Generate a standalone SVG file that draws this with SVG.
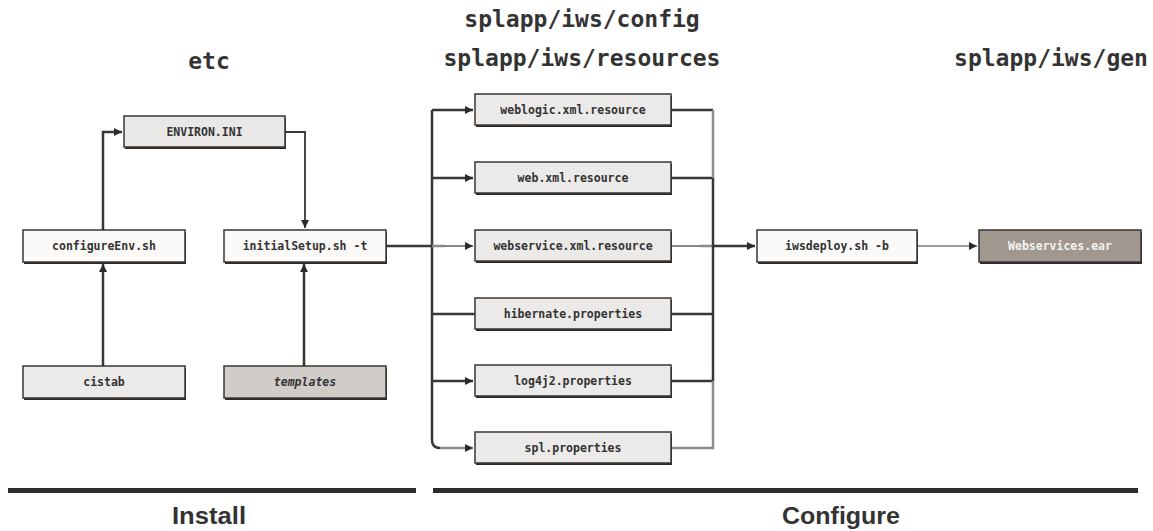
<svg xmlns="http://www.w3.org/2000/svg" width="1153" height="531" viewBox="0 0 1153 531">
<defs>
<style>
.hdr{font-family:"DejaVu Sans Mono","Liberation Mono",monospace;font-weight:bold;font-size:23px;fill:#333;text-anchor:middle}
.box{stroke:#3a3633;stroke-width:1.5}
.sh{fill:#2e2a28}
.t{font-family:"DejaVu Sans Mono","Liberation Mono",monospace;font-weight:bold;font-size:11.5px;fill:#333;text-anchor:middle}
.c{fill:none;stroke:#3a3633;stroke-width:2.5}
.cg{fill:none;stroke:#8e8a86;stroke-width:2.5}
.thin{fill:none;stroke:#3a3633;stroke-width:1.2}
.foot{font-family:"Liberation Sans",Arial,sans-serif;font-weight:bold;font-size:23px;fill:#333;text-anchor:middle}
</style>
<marker id="ah" viewBox="0 0 10 10" refX="10" refY="5" markerWidth="8" markerHeight="8" markerUnits="userSpaceOnUse" orient="auto">
<path d="M0,0 L10,5 L0,10 z" fill="#2e2a28"/>
</marker>
</defs>
<rect width="1153" height="531" fill="#fff"/>

<g id="headers">
<text class="hdr" x="209" y="69">etc</text>
<text class="hdr" x="582" y="27">splapp/iws/config</text>
<text class="hdr" x="582" y="66">splapp/iws/resources</text>
<text class="hdr" x="1051" y="66">splapp/iws/gen</text>
</g>

<g id="connectors">
<path class="c" d="M103,230 V132 H122" marker-end="url(#ah)"/>
<path class="c" d="M286,132 H305 V228" marker-end="url(#ah)" style="stroke-width:1.8"/>
<path class="c" d="M103,366 V264" marker-end="url(#ah)"/>
<path class="c" d="M304,366 V264" marker-end="url(#ah)"/>
<path class="c" d="M386,246 H432"/>
<path class="c" d="M432,110 V440 Q432,448 440,448"/>
<path class="c" d="M432,110 H473" marker-end="url(#ah)"/>
<path class="c" d="M432,178 H473" marker-end="url(#ah)"/>
<path class="cg" d="M432,246 H445"/>
<path class="thin" d="M445,246 H473" marker-end="url(#ah)"/>
<path class="c" d="M432,314 H475"/>
<path class="c" d="M432,381 H473" marker-end="url(#ah)"/>
<path class="cg" d="M440,448 H473" marker-end="url(#ah)"/>
<path class="c" d="M671,110 H713"/>
<path class="c" d="M671,178 H713"/>
<path class="thin" d="M671,246 H700"/>
<path class="cg" d="M700,246 H713"/>
<path class="c" d="M671,314 H713"/>
<path class="c" d="M671,381 H713"/>
<path class="cg" d="M671,448 H713 V381"/>
<path class="cg" d="M713,110 V178"/>
<path class="c" d="M713,178 V381"/>
<path class="c" d="M713,246 H755" marker-end="url(#ah)"/>
<path class="thin" d="M917,246 H977" marker-end="url(#ah)"/>
</g>

<g id="n-environ">
<rect class="sh" x="125" y="118" width="161" height="31"/>
<rect class="box" x="124" y="116" width="161" height="31" fill="#e9e8e6"/>
<text class="t" x="204.5" y="135.5">ENVIRON.INI</text>
</g>
<g id="n-configureEnv">
<rect class="sh" x="24" y="232" width="162" height="32"/>
<rect class="box" x="23" y="230" width="162" height="32" fill="#fbfaf9"/>
<text class="t" x="104" y="250">configureEnv.sh</text>
</g>
<g id="n-initialSetup">
<rect class="sh" x="225" y="232" width="162" height="32"/>
<rect class="box" x="224" y="230" width="162" height="32" fill="#fbfaf9"/>
<text class="t" x="305" y="250">initialSetup.sh -t</text>
</g>
<g id="n-cistab">
<rect class="sh" x="24" y="368" width="162" height="32"/>
<rect class="box" x="23" y="366" width="162" height="32" fill="#ebeae8"/>
<text class="t" x="104" y="386">cistab</text>
</g>
<g id="n-templates">
<rect class="sh" x="225" y="368" width="162" height="32"/>
<rect class="box" x="224" y="366" width="162" height="32" fill="#d0ccc8"/>
<text class="t" x="305" y="386" font-style="italic">templates</text>
</g>

<g id="n-weblogic">
<rect class="sh" x="476" y="96" width="196" height="31"/>
<rect class="box" x="475" y="94" width="196" height="31" fill="#ebeae8"/>
<text class="t" x="573" y="114">weblogic.xml.resource</text>
</g>
<g id="n-web">
<rect class="sh" x="476" y="164" width="196" height="31"/>
<rect class="box" x="475" y="162" width="196" height="31" fill="#ebeae8"/>
<text class="t" x="573" y="182">web.xml.resource</text>
</g>
<g id="n-webservice">
<rect class="sh" x="476" y="232" width="196" height="31"/>
<rect class="box" x="475" y="230" width="196" height="31" fill="#ebeae8"/>
<text class="t" x="573" y="250">webservice.xml.resource</text>
</g>
<g id="n-hibernate">
<rect class="sh" x="476" y="300" width="196" height="31"/>
<rect class="box" x="475" y="298" width="196" height="31" fill="#ebeae8"/>
<text class="t" x="573" y="318">hibernate.properties</text>
</g>
<g id="n-log4j2">
<rect class="sh" x="476" y="367" width="196" height="31"/>
<rect class="box" x="475" y="365" width="196" height="31" fill="#ebeae8"/>
<text class="t" x="573" y="385">log4j2.properties</text>
</g>
<g id="n-spl">
<rect class="sh" x="476" y="434" width="196" height="31"/>
<rect class="box" x="475" y="432" width="196" height="31" fill="#ebeae8"/>
<text class="t" x="573" y="452">spl.properties</text>
</g>

<g id="n-iwsdeploy">
<rect class="sh" x="758" y="232" width="160" height="32"/>
<rect class="box" x="757" y="230" width="160" height="32" fill="#fbfaf9"/>
<text class="t" x="837" y="250">iwsdeploy.sh -b</text>
</g>
<g id="n-ear">
<rect class="sh" x="980" y="232" width="162" height="32"/>
<rect class="box" x="979" y="230" width="162" height="32" fill="#a0978f"/>
<text class="t" x="1060" y="250" style="fill:#f4f2ef">Webservices.ear</text>
</g>

<g id="phases">
<rect x="8" y="488" width="408" height="5" fill="#2e2a28"/>
<rect x="433" y="488" width="705" height="5" fill="#2e2a28"/>
<text class="foot" x="209" y="524" textLength="74" lengthAdjust="spacingAndGlyphs">Install</text>
<text class="foot" x="841" y="524" textLength="118" lengthAdjust="spacingAndGlyphs">Configure</text>
</g>
</svg>
